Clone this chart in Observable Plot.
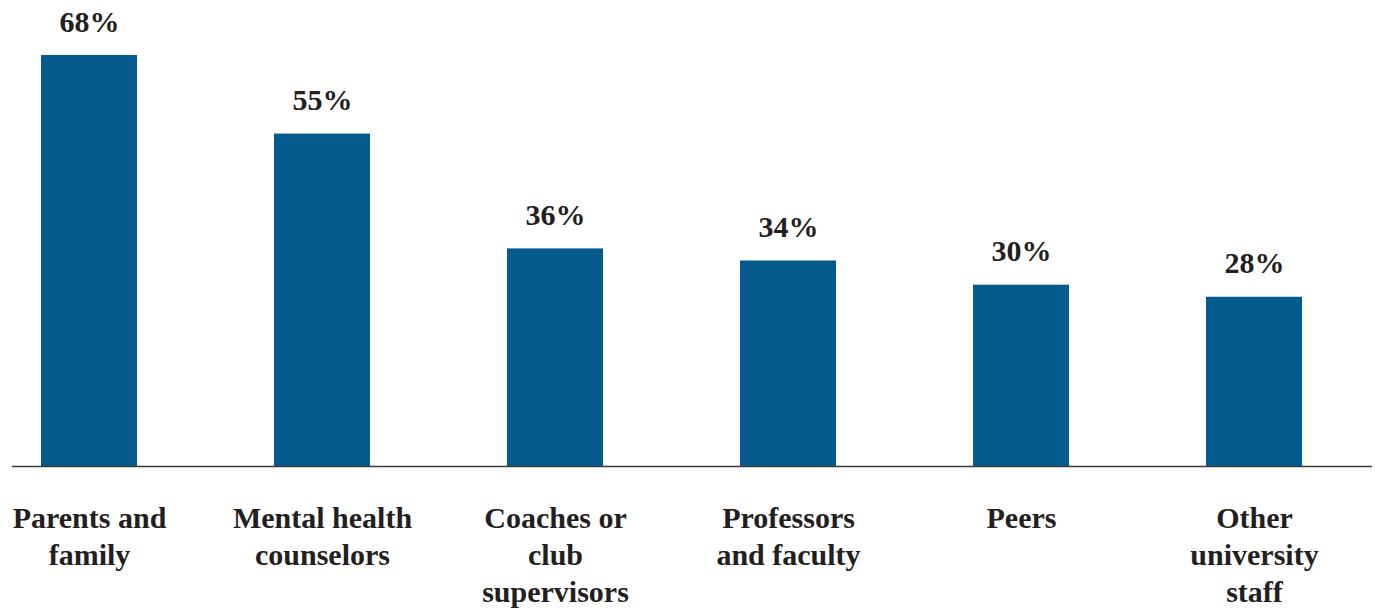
<!DOCTYPE html>
<html>
<head>
<meta charset="utf-8">
<script src="https://cdn.jsdelivr.net/npm/d3@7"></script>
<script src="https://cdn.jsdelivr.net/npm/@observablehq/plot@0.6"></script>
<style>
  html, body { margin: 0; padding: 0; background: #fff; }
  #chart svg { display: block; }
</style>
</head>
<body>
<div id="chart"></div>
<script>
const categories = [
  "Parents and\nfamily",
  "Mental health\ncounselors",
  "Coaches or\nclub\nsupervisors",
  "Professors\nand faculty",
  "Peers",
  "Other\nuniversity\nstaff"
];
const values = [68, 55, 36, 34, 30, 28];
const valueLabels = ["68%", "55%", "36%", "34%", "30%", "28%"];

const data = categories.map((c, i) => ({cat: c, value: values[i], label: valueLabels[i]}));

const font = "'Liberation Serif', 'DejaVu Serif', serif";

const chart = Plot.plot({
  width: 1375,
  height: 612,
  marginTop: 55,
  marginBottom: 146,
  marginLeft: 12,
  marginRight: 3,
  style: {fontFamily: font, background: "#fff"},
  x: {domain: categories, range: [39, 1303], paddingInner: 0.589, paddingOuter: 0, axis: null},
  y: {domain: [0, 68], axis: null},
  marks: [
    Plot.barY(data, {x: "cat", y: "value", fill: "#065B8E"}),
    Plot.ruleY([0], {stroke: "#3a3a3a", strokeWidth: 1.5}),
    Plot.text(data, {
      x: "cat", y: "value", text: "label",
      lineAnchor: "bottom", dy: -24,
      fontSize: 30, fontWeight: "bold", fill: "#231F20"
    }),
    Plot.text(data, {
      x: "cat", y: () => 0, text: "cat",
      lineAnchor: "top", dy: 35, lineHeight: 1.24,
      fontSize: 30, fontWeight: "bold", fill: "#231F20"
    })
  ]
});
document.getElementById("chart").appendChild(chart);
</script>
</body>
</html>
